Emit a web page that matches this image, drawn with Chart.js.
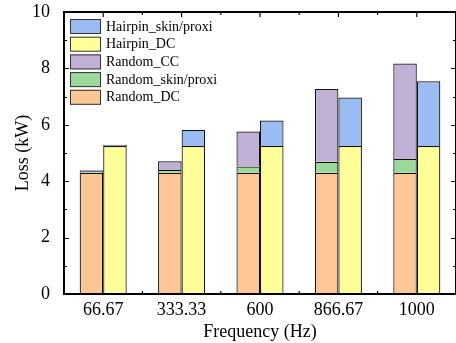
<!DOCTYPE html>
<html>
<head>
<meta charset="utf-8">
<script src="https://cdn.jsdelivr.net/npm/chart.js@4"></script>
<style>
  html, body { margin: 0; padding: 0; background: #fff; }
  #wrap { width: 456px; height: 343px; }
</style>
</head>
<body>
<div id="wrap"><canvas id="lossChart" width="456" height="343"></canvas></div>
<script>
// data (kW)
const categories = ['66.67', '333.33', '600', '866.67', '1000'];
const randomDC = [4.30, 4.30, 4.30, 4.30, 4.30];
const randomSkin = [0.05, 0.10, 0.22, 0.39, 0.49];
const randomCC = [0.04, 0.31, 1.24, 2.58, 3.38];
const hairpinDC = [5.25, 5.25, 5.25, 5.25, 5.25];
const hairpinSkin = [0.04, 0.57, 0.90, 1.72, 2.29];
const yTicks = [0, 2, 4, 6, 8, 10];

const FONT = '"Liberation Serif", "Times New Roman", serif';

// frame + inward ticks, like the origin-style plot
const framePlugin = {
    id: 'frame',
    afterDatasetsDraw(chart) {
        const { ctx, chartArea: a, scales } = chart;
        const x = scales.x, y = scales.y;
        ctx.save();
        ctx.strokeStyle = '#000';
        ctx.lineWidth = 1.2;
        ctx.beginPath();
        for (let v = 0; v <= 10; v++) {
            const py = Math.round(y.getPixelForValue(v)) + 0.5;
            const len = v % 2 === 0 ? 5 : 3;
            ctx.moveTo(a.left, py); ctx.lineTo(a.left + len, py);
            ctx.moveTo(a.right, py); ctx.lineTo(a.right - len, py);
        }
        for (let i = 0; i < categories.length; i++) {
            const px = x.getPixelForValue(i);
            ctx.moveTo(px, a.top); ctx.lineTo(px, a.top + 5);
            if (i < categories.length - 1) {
                const mid = (px + x.getPixelForValue(i + 1)) / 2;
                ctx.moveTo(mid, a.top); ctx.lineTo(mid, a.top + 3);
                ctx.moveTo(mid, a.bottom); ctx.lineTo(mid, a.bottom - 3);
            }
        }
        ctx.stroke();
        ctx.lineWidth = 2;
        ctx.strokeRect(a.left, a.top, a.right - a.left, a.bottom - a.top);
        ctx.restore();
    },
    afterDraw(chart) {
        // legend inside the plot, top-left, reversed order
        const { ctx, chartArea: a } = chart;
        const sets = chart.data.datasets.slice().reverse();
        ctx.save();
        ctx.font = '14px ' + FONT;
        ctx.textBaseline = 'middle';
        sets.forEach((ds, i) => {
            const bx = a.left + 6, by = a.top + 7 + i * 17.7;
            ctx.fillStyle = ds.backgroundColor;
            ctx.fillRect(bx, by, 31, 15);
            ctx.strokeStyle = '#333';
            ctx.lineWidth = 1;
            ctx.strokeRect(bx + 0.5, by + 0.5, 30, 14);
            ctx.fillStyle = '#000';
            ctx.fillText(ds.label, bx + 36, by + 8);
        });
        ctx.restore();
    }
};

const ctx = document.getElementById('lossChart').getContext('2d');

const barStyle = { borderColor: '#111', borderWidth: 1.2, barPercentage: 1.0, categoryPercentage: 0.6 };

new Chart(ctx, {
    type: 'bar',
    data: {
        labels: categories,
        datasets: [
            { label: 'Random_DC', data: randomDC, stack: 'random', backgroundColor: '#FDC795', ...barStyle },
            { label: 'Random_skin/proxi', data: randomSkin, stack: 'random', backgroundColor: '#9DD89B', ...barStyle },
            { label: 'Random_CC', data: randomCC, stack: 'random', backgroundColor: '#C1B0D6', ...barStyle },
            { label: 'Hairpin_DC', data: hairpinDC, stack: 'hairpin', backgroundColor: '#FFFF99', ...barStyle },
            { label: 'Hairpin_skin/proxi', data: hairpinSkin, stack: 'hairpin', backgroundColor: '#9BBCF2', ...barStyle }
        ]
    },
    options: {
        responsive: false,
        animation: false,
        layout: { padding: { top: 12, right: 0, left: 0, bottom: 0 } },
        scales: {
            x: {
                stacked: true,
                grid: { display: false },
                border: { display: false },
                ticks: { color: '#000', font: { family: FONT, size: 18 }, padding: -3 },
                title: { display: true, text: 'Frequency (Hz)', color: '#000', font: { family: FONT, size: 18 }, padding: { top: 0, bottom: 0 } },
                afterFit(scale) { scale.height = 49; scale.paddingLeft = 0; scale.paddingRight = 0; }
            },
            y: {
                stacked: true,
                min: 0,
                max: 10,
                afterBuildTicks(scale) { scale.ticks = yTicks.map(v => ({ value: v })); },
                grid: { display: false },
                border: { display: false },
                ticks: { color: '#000', font: { family: FONT, size: 18 }, padding: 6 },
                title: { display: true, text: 'Loss (kW)', color: '#000', font: { family: FONT, size: 18 }, padding: { top: 12, bottom: 0 } },
                afterFit(scale) { scale.width = 64; scale.paddingTop = 0; scale.paddingBottom = 0; }
            }
        },
        plugins: {
            legend: { display: false },
            tooltip: { enabled: false }
        }
    },
    plugins: [framePlugin]
});
</script>
</body>
</html>
